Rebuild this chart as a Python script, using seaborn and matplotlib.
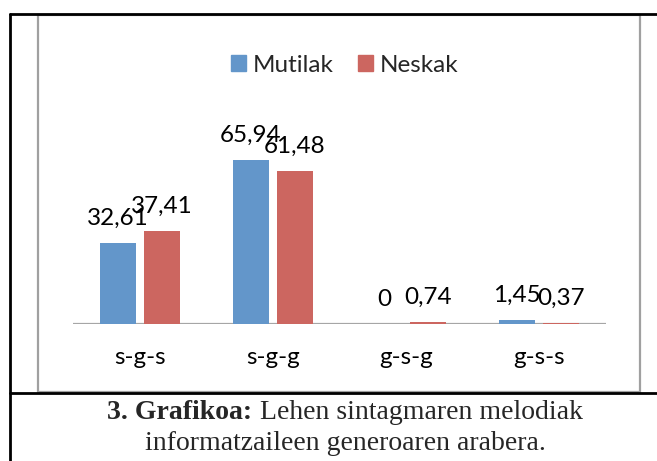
import matplotlib
matplotlib.use("Agg")
import matplotlib.pyplot as plt
import seaborn as sns
import pandas as pd
from matplotlib.lines import Line2D
from matplotlib.patches import Rectangle

categories = ["s-g-s", "s-g-g", "g-s-g", "g-s-s"]
series_names = ["Mutilak", "Neskak"]
mutilak = [32.61, 65.94, 0.0, 1.45]
neskak = [37.41, 61.48, 0.74, 0.37]
colors = ["#6396CA", "#CC6660"]
caption_bold = "3. Grafikoa:"
caption_rest = " Lehen sintagmaren melodiak"
caption_line2 = "informatzaileen generoaren arabera."

df = pd.DataFrame({
    "cat": categories * 2,
    "serie": [series_names[0]] * 4 + [series_names[1]] * 4,
    "val": mutilak + neskak,
})

sns.set_theme(style="white")
plt.rcParams["font.family"] = ["Lato", "DejaVu Sans"]

W, H = 657, 461
fig = plt.figure(figsize=(W / 100, H / 100), dpi=100)

def fx(x): return x / W
def fy(y): return 1 - y / H

ax = fig.add_axes([fx(73), fy(323.5), fx(606) - fx(73), (323.5 - 75.5) / H])
sns.barplot(data=df, x="cat", y="val", hue="serie", palette=colors,
            width=0.66, gap=0.18, ax=ax, legend=False, saturation=1, zorder=3,
            linewidth=0, edgecolor="none")
ax.set_ylim(0, 100)
ax.set_xlim(-0.5, 3.5)
for c in ax.containers:
    ax.bar_label(c, labels=[("0" if v == 0 else f"{v:.2f}".replace(".", ",")) for v in c.datavalues],
                 padding=10, fontsize=17.5, color="#000000", clip_on=False)
ax.set_xlabel("")
ax.set_ylabel("")
ax.set_yticks([])
ax.tick_params(axis="x", length=0, pad=17, labelsize=17.5, colors="#000000")
for s in ["top", "left", "right", "bottom"]:
    ax.spines[s].set_visible(False)
ax.axhline(0, color="#a6a6a6", linewidth=1.6, zorder=1)
ax.patch.set_alpha(0)

handles = [Rectangle((0, 0), 1, 1, color=colors[i]) for i in range(2)]
fig.legend(handles, series_names, loc="center", bbox_to_anchor=(fx(345), fy(65)),
           ncol=2, frameon=False, fontsize=17.5, handlelength=0.6, handleheight=0.6,
           handletextpad=0.3, columnspacing=1.0)

# frames
fig.add_artist(Rectangle((fx(38), fy(392)), fx(640) - fx(38), (392 - 15) / H,
                         transform=fig.transFigure, fill=False, edgecolor="#a0a0a0", linewidth=1.6))
for xs, ys in [([10, 657], [14, 14]), ([10, 10], [14, 461]), ([10, 657], [393, 393])]:
    fig.add_artist(Line2D([fx(x) for x in xs], [fy(y) for y in ys],
                          transform=fig.transFigure, color="black", linewidth=2))

serif = ["Liberation Serif", "DejaVu Serif"]
csize = 20
t1 = fig.text(0, fy(412), caption_bold, ha="left", va="center", fontsize=csize,
              family=serif, weight="bold")
t2 = fig.text(0, fy(412), caption_rest, ha="left", va="center", fontsize=csize, family=serif)
r = fig.canvas.get_renderer()
w1 = t1.get_window_extent(r).width
w2 = t2.get_window_extent(r).width
x0 = 345 - (w1 + w2) / 2
t1.set_x(fx(x0))
t2.set_x(fx(x0 + w1))
fig.text(fx(345), fy(443), caption_line2, ha="center", va="center", fontsize=csize, family=serif)

fig.savefig("out.png", dpi=100)
